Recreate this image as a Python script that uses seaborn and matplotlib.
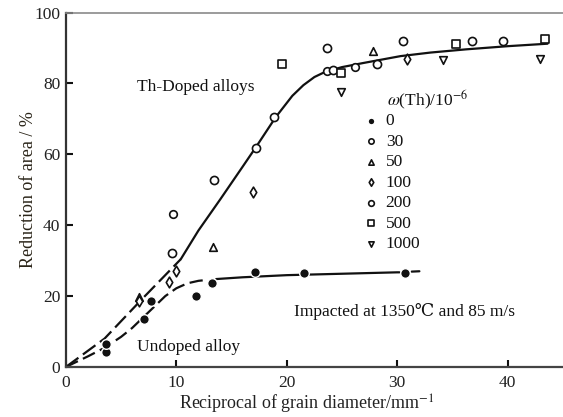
import matplotlib
matplotlib.use("Agg")
import matplotlib.pyplot as plt
import seaborn as sns
import pandas as pd

sns.set_theme(style="white")
plt.rcParams['font.family'] = ['Liberation Serif', 'DejaVu Serif']
plt.rcParams['mathtext.fontset'] = 'stix'

# ---- data ----
th0_x = [3.6, 3.6, 7.1, 7.7, 11.8, 13.2, 17.1, 21.6, 30.7]
th0_y = [4.3, 6.5, 13.6, 18.5, 19.9, 23.6, 26.7, 26.4, 26.4]
th30_x = [9.7, 23.6, 26.2]
th30_y = [43.2, 83.6, 84.7]
th50_x = [6.6, 13.3, 27.8]
th50_y = [19.8, 33.9, 89.1]
th100_x = [6.6, 9.3, 10.0, 16.9, 30.9]
th100_y = [18.6, 24.0, 27.1, 49.4, 86.8]
th200_x = [9.6, 13.4, 17.2, 18.8, 23.6, 24.2, 28.2, 30.5, 36.8, 39.6]
th200_y = [32.2, 52.8, 61.9, 70.6, 89.9, 83.9, 85.5, 92.1, 92.0, 92.0]
th500_x = [19.6, 24.9, 35.3, 43.4]
th500_y = [85.6, 83.0, 91.0, 92.6]
th1000_x = [24.9, 34.1, 42.9]
th1000_y = [77.6, 86.7, 86.9]

doped_dash_x = [0, 3.5, 7.0, 10.4]
doped_dash_y = [0, 8.0, 19.5, 30.4]
doped_solid_x = [10.4, 12, 14, 16, 17.2, 19, 20.5, 21.5, 22.5, 23.5, 25, 27, 30.3, 33, 36.2, 40, 43.6]
doped_solid_y = [30.4, 38.5, 47.4, 56.5, 62, 70.5, 76.5, 79.5, 81.8, 83.3, 84.6, 85.8, 87.7, 88.7, 89.6, 90.5, 91.2]

undoped_dash_x = [0, 2, 3.5, 5, 6, 7, 8, 9, 10, 11, 12, 12.6]
undoped_dash_y = [0, 3, 5.4, 8.5, 11, 14, 17, 20, 22.2, 23.6, 24.3, 24.5]
undoped_solid_x = [13.6, 16, 20, 25, 30, 30.2]
undoped_solid_y = [24.8, 25.3, 25.9, 26.3, 26.7, 26.7]
undoped_tail_x = [31.3, 32.0]
undoped_tail_y = [26.9, 27.0]

x_ticks = [0, 10, 20, 30, 40]
y_ticks = [0, 20, 40, 60, 80, 100]

# ---- figure ----
fig = plt.figure(figsize=(5.63, 4.17), dpi=100)
ax = fig.add_axes([0.117, 0.12, 0.883, 0.85])
ink = '#111111'

def line(xs, ys, dashes=None):
    df = pd.DataFrame({'x': xs, 'y': ys})
    sns.lineplot(data=df, x='x', y='y', sort=False, estimator=None,
                 color=ink, lw=1.6, ax=ax, legend=False, zorder=2)
    ln = ax.lines[-1]
    if dashes:
        ln.set_dashes(dashes)
    return ln

line(doped_dash_x, doped_dash_y, (7, 2.5))
line(doped_solid_x, doped_solid_y)
line(undoped_dash_x, undoped_dash_y, (6, 2.5))
line(undoped_solid_x, undoped_solid_y)
line(undoped_tail_x, undoped_tail_y)

groups = [
    ('0', th0_x, th0_y, 'o', True, 48),
    ('30', th30_x, th30_y, 'o', False, 30),
    ('50', th50_x, th50_y, '^', False, 30),
    ('100', th100_x, th100_y, 'd', False, 30),
    ('200', th200_x, th200_y, 'o', False, 34),
    ('500', th500_x, th500_y, 's', False, 28),
    ('1000', th1000_x, th1000_y, 'v', False, 30),
]
for lab, xs, ys, m, filled, s in groups:
    if filled:
        sns.scatterplot(x=xs, y=ys, marker=m, s=s, color=ink, edgecolor='white',
                        linewidth=1.0, ax=ax, label=lab, zorder=4)
    else:
        sns.scatterplot(x=xs, y=ys, marker=m, s=s, facecolor='white', edgecolor=ink,
                        linewidth=1.2, ax=ax, label=lab, zorder=4)

ax.set_xlim(0, 45)
ax.set_ylim(0, 100)
ax.set_xticks(x_ticks)
ax.set_yticks(y_ticks)
ax.tick_params(direction='in', length=5, width=1.5, colors=ink, labelsize=12.5,
               top=False, right=False, left=True, bottom=True)
ax.tick_params(axis='x', pad=6)
ax.tick_params(axis='y', pad=4)
for lbl in ax.get_xticklabels() + ax.get_yticklabels():
    lbl.set_color('#222222')

ax.spines['right'].set_visible(False)
ax.spines['top'].set_color('#8a8a8a')
ax.spines['top'].set_linewidth(1.2)
ax.spines['left'].set_color('#333333')
ax.spines['left'].set_linewidth(1.6)
ax.spines['bottom'].set_color('#444444')
ax.spines['bottom'].set_linewidth(1.6)

ax.set_xlabel('Reciprocal of grain diameter/mm$^{-1}$', fontsize=13, color='#222222')
ax.xaxis.set_label_coords(0.484, -0.072)
ax.set_ylabel('Reduction of area / %', fontsize=13, color='#2a2418')
ax.yaxis.set_label_coords(-0.059, 0.5)

ax.text(11.8, 79.0, 'Th-Doped alloys', fontsize=12.5, ha='center', va='center', color=ink)
ax.text(11.1, 5.7, 'Undoped alloy', fontsize=12.5, ha='center', va='center', color=ink)
ax.text(20.65, 15.6, 'Impacted at 1350\u2103 and 85 m/s', fontsize=12.5, ha='left', va='center',
        color=ink, family=['Liberation Serif', 'DejaVu Serif'])

fig.text(387 / 563, 1 - 100 / 417, r'$\omega$(Th)/10$^{-6}$', fontsize=12.5, ha='left', va='center', color=ink)

leg = ax.legend(frameon=False, fontsize=12.5, loc='upper left',
                bbox_to_anchor=(364 / 563, 1 - 113 / 417), bbox_transform=fig.transFigure,
                handlelength=0.8, handletextpad=0.45, labelspacing=0.25,
                borderpad=0, borderaxespad=0, markerscale=0.7)
for t in leg.get_texts():
    t.set_color(ink)

fig.savefig('out.png', dpi=100)
